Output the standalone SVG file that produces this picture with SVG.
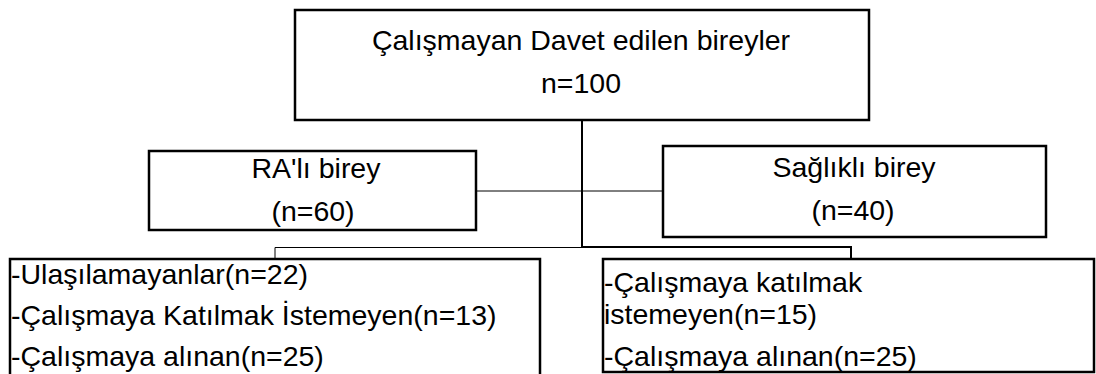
<svg xmlns="http://www.w3.org/2000/svg" width="1096" height="374" viewBox="0 0 1096 374">
<style>
.box{fill:#fff;stroke:#000;stroke-width:2.5}
.t{font-family:"Liberation Sans",Arial,sans-serif;font-size:28.5px;fill:#000}
.c{text-anchor:middle}
.thin{fill:none;stroke:#000;stroke-width:1}
.thick{fill:none;stroke:#000;stroke-width:2}
</style>
<rect width="1096" height="374" fill="#fff"/>
<g id="connectors">
<line class="thick" x1="582" y1="120" x2="582" y2="247"/>
<line class="thin" x1="476" y1="191" x2="663" y2="191"/>
<polyline class="thin" points="275,259 275,247.5 582,247.5"/>
<polyline class="thick" points="582,247 851,247 851,259"/>
</g>
<g id="top">
<rect class="box" x="295" y="10" width="574" height="110"/>
<text class="t c" x="581" y="50">Çalışmayan Davet edilen bireyler</text>
<text class="t c" x="581" y="93">n=100</text>
</g>
<g id="ra">
<rect class="box" x="149" y="151" width="327" height="79"/>
<text class="t c" x="316" y="178">RA'lı birey</text>
<text class="t c" x="313" y="221">(n=60)</text>
</g>
<g id="saglikli">
<rect class="box" x="663" y="146" width="383" height="91"/>
<text class="t c" x="854" y="177">Sağlıklı birey</text>
<text class="t c" x="853" y="220">(n=40)</text>
</g>
<g id="ra-detail">
<rect class="box" x="10" y="259" width="530" height="130"/>
<text class="t" x="11" y="284">-Ulaşılamayanlar(n=22)</text>
<text class="t" x="11" y="325">-Çalışmaya Katılmak İstemeyen(n=13)</text>
<text class="t" x="11" y="366">-Çalışmaya alınan(n=25)</text>
</g>
<g id="saglikli-detail">
<rect class="box" x="603" y="259" width="491" height="113"/>
<text class="t" x="604" y="292">-Çalışmaya katılmak</text>
<text class="t" x="604" y="324">istemeyen(n=15)</text>
<text class="t" x="604" y="366">-Çalışmaya alınan(n=25)</text>
</g>
</svg>
